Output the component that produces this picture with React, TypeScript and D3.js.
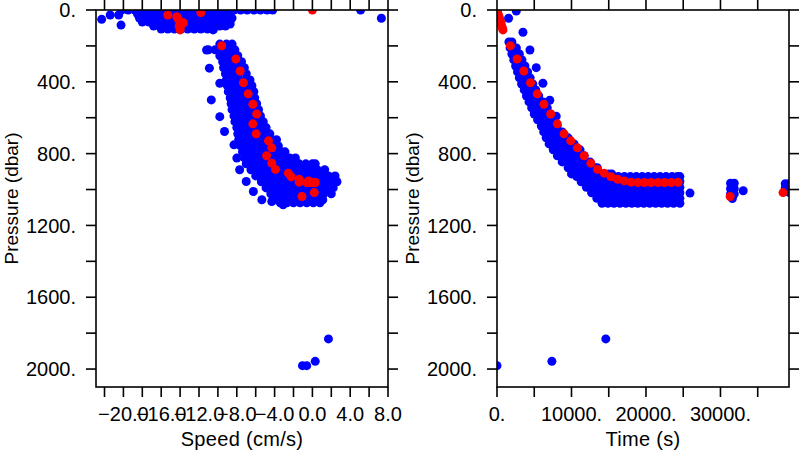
import React from 'react';
import * as d3 from 'd3';

// ---------- axis ticks & labels ----------
const pressureTicks = [0, 200, 400, 600, 800, 1000, 1200, 1400, 1600, 1800, 2000];
const pressureLabels = [0, 400, 800, 1200, 1600, 2000];
const speedTicks = [-22, -20, -18, -16, -14, -12, -10, -8, -6, -4, -2, 0, 2, 4, 6, 8];
const speedLabels = [-20, -16, -12, -8, -4, 0, 4, 8];
const timeTicks = [0, 5000, 10000, 15000, 20000, 25000, 30000, 35000];
const timeLabels = [0, 10000, 20000, 30000];

// ---------- red observations: [time (s), pressure (dbar), speed (cm/s)] ----------
const redObs: [number, number, number][] = [
  [0, 0, 0.0], [90, 15, -11.8], [180, 28, -15.3], [270, 37, -14.35], [360, 50, -14.2],
  [450, 65, -14.0], [540, 71, -13.65], [630, 89, -14.1], [720, 100, -14.0], [800, 111, -14.0],
  [1800, 199, -9.6], [2700, 273, -8.1], [3600, 340, -7.65], [4500, 405, -7.3], [5400, 467, -6.8],
  [6300, 525, -6.3], [7200, 579, -5.9], [8100, 634, -6.3], [9000, 690, -5.95], [9900, 729, -4.65],
  [10800, 768, -4.3], [11700, 812, -4.85], [12600, 853, -4.3], [13500, 888, -3.9], [14400, 909, -2.55],
  [15300, 929, -2.25], [16200, 943, -1.4], [17100, 952, -0.4], [18000, 959, -1.4], [18900, 961, -0.05],
  [19800, 961, 0.3], [20700, 961, -0.3], [21600, 961, 0.0], [22500, 961, 0.25], [23400, 961, -0.6],
  [24300, 960, 0.1], [31300, 1039, -1.1], [38400, 1017, 0.2],
];

// ---------- blue cloud, speed panel: [pressure, speeds[]] ----------
const speedBlueRows: [number, number[]][] = [
  [0, [-20.2, -19.5, -18.8, -18.1, -17.4, -16.7, -16.0, -15.3, -14.6, -13.9, -13.2, -12.5, -11.8, -11.1, -10.4, -9.7, -9.0, -8.3, -7.6, -6.9, -6.2, -5.5, -4.8, -4.2]],
  [22, [-18.5, -17.8, -17.1, -16.4, -15.7, -15.0, -14.3, -13.6, -12.9, -12.2, -11.5, -10.8, -10.1, -9.4, -8.7]],
  [45, [-18.3, -17.6, -16.9, -16.2, -15.5, -14.8, -14.1, -13.4, -12.7, -12.0, -11.3, -10.6, -9.9, -9.2, -8.5]],
  [67, [-18.0, -17.3, -16.6, -15.9, -15.2, -14.5, -13.8, -13.1, -12.4, -11.7, -11.0, -10.3, -9.6, -8.9]],
  [89, [-16.8, -16.1, -15.4, -14.7, -14.0, -13.3, -12.6, -11.9, -11.2, -10.5, -9.8, -9.2]],
  [106, [-16.0, -15.3, -14.6, -13.9, -13.2, -12.5, -11.8, -11.1, -10.5]],
  [190, [-9.8, -9.1, -8.5]],
  [222, [-11.0, -10.3, -9.6, -8.9, -8.2]],
  [255, [-9.8, -9.1, -8.4, -7.9]],
  [288, [-9.5, -8.8, -8.1, -7.5]],
  [322, [-9.4, -8.7, -8.0, -7.2]],
  [355, [-9.2, -8.5, -7.8, -7.0]],
  [390, [-9.1, -8.4, -7.7, -7.0, -6.6]],
  [422, [-9.0, -8.3, -7.6, -6.9, -6.4]],
  [455, [-8.9, -8.2, -7.5, -6.8, -6.2]],
  [490, [-8.7, -8.0, -7.3, -6.6, -6.1]],
  [522, [-8.6, -7.9, -7.2, -6.5, -5.9]],
  [555, [-8.5, -7.8, -7.1, -6.4, -5.7]],
  [590, [-8.3, -7.6, -6.9, -6.2, -5.5]],
  [622, [-8.2, -7.5, -6.8, -6.1, -5.5, -5.2]],
  [655, [-8.0, -7.3, -6.6, -5.9, -5.3, -4.9]],
  [690, [-7.9, -7.2, -6.5, -5.8, -5.1, -4.5]],
  [723, [-7.8, -7.1, -6.4, -5.7, -5.0, -4.4, -3.8]],
  [757, [-7.6, -6.9, -6.2, -5.5, -4.8, -4.2, -3.6]],
  [790, [-7.4, -6.7, -6.0, -5.3, -4.6, -3.9, -3.3, -2.9]],
  [824, [-7.2, -6.5, -5.8, -5.1, -4.4, -3.7, -3.0, -2.4, -1.8]],
  [857, [-7.0, -6.3, -5.6, -4.9, -4.2, -3.5, -2.8, -2.1, -1.4, -0.7, 0.0, 0.3]],
  [890, [-6.5, -5.8, -5.1, -4.4, -3.7, -3.0, -2.3, -1.6, -0.9, -0.2, 0.5, 1.3]],
  [924, [-6.0, -5.3, -4.6, -3.9, -3.2, -2.5, -1.8, -1.1, -0.4, 0.3, 1.0, 1.7, 2.4]],
  [957, [-5.4, -4.7, -4.0, -3.3, -2.6, -1.9, -1.2, -0.5, 0.2, 0.9, 1.6, 2.3, 2.6]],
  [991, [-4.9, -4.2, -3.5, -2.8, -2.1, -1.4, -0.7, 0.0, 0.7, 1.4, 2.2]],
  [1024, [-4.4, -3.7, -3.0, -2.3, -1.6, -0.9, -0.2, 0.5, 1.2, 2.0]],
  [1057, [-3.8, -3.1, -2.4, -1.7, -1.0, -0.3, 0.4, 1.1]],
  [1074, [-3.4, -2.7, -2.0, -1.3, -0.6, 0.1, 0.8]],
];

// isolated blue points, speed panel: [speed, pressure]
const speedBlueExtra: [number, number][] = [
  [-21.4, 28], [-20.5, 28], [-22.3, 52], [-20.25, 84], [-10.5, 111], [-8.7, 78], [5.1, 0], [7.3, 46],
  [-11.2, 223], [-10.9, 324], [-9.8, 408], [-10.7, 501], [-9.8, 594], [-9.3, 677], [-8.3, 751],
  [-8.0, 825], [-7.7, 890], [-7.0, 955], [-6.25, 1011], [-5.35, 1057], [-4.3, 1067], [-3.1, 1085],
  [-1.05, 1981], [-0.6, 1981], [0.3, 1957], [1.7, 1832],
];

// ---------- blue cloud, time panel: [pressure, times[]] ----------
const timeBlueRows: [number, number[]][] = [
  [178, [1600, 2000]],
  [211, [1750, 2300, 2600]],
  [245, [2000, 2550, 3000]],
  [278, [2250, 2850, 3350]],
  [312, [2500, 3150, 3750]],
  [345, [2750, 3450, 4100]],
  [378, [3000, 3750, 4450]],
  [412, [3300, 4050, 4800]],
  [445, [3650, 4400, 5200]],
  [479, [3950, 4750, 5600]],
  [512, [4300, 5050, 5750, 6200]],
  [545, [4650, 5400, 6150, 6750]],
  [579, [5000, 5800, 6600, 7200]],
  [612, [5450, 6200, 6950, 7700]],
  [646, [5950, 6650, 7350, 8080]],
  [679, [6270, 7100, 7900, 8750]],
  [712, [6600, 7350, 8100, 8850, 9550]],
  [746, [7000, 7850, 8700, 9550, 10350]],
  [779, [7550, 8450, 9350, 10250, 11150]],
  [812, [8100, 9000, 9900, 10800, 11700]],
  [846, [8750, 9650, 10550, 11450, 12500]],
  [879, [9550, 10450, 11350, 12250, 13150, 13450]],
  [913, [10000, 10850, 11700, 12550, 13400, 14250, 15000, 15400]],
  [928, [10700, 11500, 12300, 13100, 13900, 14700, 15500, 16300, 17100, 17900, 18700, 19500, 20300, 21100, 21900, 22700, 23500, 24200, 24550]],
  [957, [11300, 12100, 12900, 13700, 14500, 15300, 16100, 16900, 17700, 18500, 19300, 20100, 20900, 21700, 22500, 23300, 24100, 24550]],
  [988, [12000, 12750, 13550, 14350, 15150, 15950, 16750, 17550, 18350, 19150, 19950, 20750, 21550, 22350, 23150, 23950, 24550]],
  [1018, [12700, 13500, 14300, 15100, 15900, 16700, 17500, 18300, 19100, 19900, 20700, 21500, 22300, 23100, 23900, 24550]],
  [1049, [13400, 14200, 15000, 15800, 16600, 17400, 18200, 19000, 19800, 20600, 21400, 22200, 23000, 23800, 24550]],
  [1077, [14100, 14900, 15700, 16500, 17300, 18100, 18900, 19700, 20500, 21300, 22100, 22900, 23700, 24550]],
];

// isolated blue points, time panel: [time, pressure]
const timeBlueExtra: [number, number][] = [
  [2590, 6], [1554, 46], [3484, 124], [4422, 223], [5266, 321], [6164, 408], [7088, 503], [7946, 592],
  [25908, 1020],
  [31350, 965], [31850, 965], [31350, 995], [31850, 995], [31350, 1025], [31850, 1025], [31600, 1050], [33050, 1007],
  [38700, 968], [39200, 968], [38700, 990], [39200, 990], [39200, 1015],
  [0, 1981], [7370, 1957], [14606, 1832],
];

// ---------- layout ----------
const TOP = 10;
const BOTTOM = 387;
const FONT = "'Liberation Sans', Arial, sans-serif";
const R = 4.5;
const BLUE = '#0000ff';
const RED = '#ff0000';

const presY = d3.scaleLinear().domain([0, 2100]).range([TOP, BOTTOM]);
const speedX = d3.scaleLinear().domain([-22.9, 8]).range([96, 388]);
const timeX = d3.scaleLinear().domain([0, 39200]).range([497, 789]);

const fmtSpeed = (v: number) => (v < 0 ? '\u2212' + Math.abs(v).toFixed(1) : v.toFixed(1));
const fmtDot = (v: number) => `${v}.`;

type Pt = [number, number];

function Panel(props: {
  id: string;
  xScale: d3.ScaleLinear<number, number>;
  xTicks: number[];
  xLabels: number[];
  fmt: (v: number) => string;
  title: string;
  blue: Pt[];
  red: Pt[];
}) {
  const { id, xScale, xTicks, xLabels, fmt, title, blue, red } = props;
  const [x0, x1] = xScale.range();
  const cx = (x0 + x1) / 2;
  const cy = (TOP + BOTTOM) / 2;
  const sw = 1.6;
  return (
    <g>
      <defs>
        <clipPath id={id}>
          <rect x={x0} y={TOP} width={x1 - x0} height={BOTTOM - TOP} />
        </clipPath>
      </defs>
      <g clipPath={`url(#${id})`}>
        {blue.map((d, i) => (
          <circle key={'b' + i} cx={xScale(d[0])} cy={presY(d[1])} r={R} fill={BLUE} />
        ))}
        {red.map((d, i) => (
          <circle key={'r' + i} cx={xScale(d[0])} cy={presY(d[1])} r={R} fill={RED} />
        ))}
      </g>
      <rect x={x0} y={TOP} width={x1 - x0} height={BOTTOM - TOP} fill="none" stroke="#000" strokeWidth={sw} />
      {pressureTicks.map((p) => (
        <g key={'yt' + p}>
          <line x1={x0 - 10} x2={x0} y1={presY(p)} y2={presY(p)} stroke="#000" strokeWidth={sw} />
          <line x1={x1} x2={x1 + 10} y1={presY(p)} y2={presY(p)} stroke="#000" strokeWidth={sw} />
        </g>
      ))}
      {xTicks.map((t) => (
        <g key={'xt' + t}>
          <line x1={xScale(t)} x2={xScale(t)} y1={TOP - 10} y2={TOP} stroke="#000" strokeWidth={sw} />
          <line x1={xScale(t)} x2={xScale(t)} y1={BOTTOM} y2={BOTTOM + 10} stroke="#000" strokeWidth={sw} />
        </g>
      ))}
      {pressureLabels.map((p) => (
        <text key={'yl' + p} x={x0 - 20} y={presY(p)} dy="0.36em" textAnchor="end" fontFamily={FONT} fontSize={20} fill="#000">
          {fmtDot(p)}
        </text>
      ))}
      {xLabels.map((t) => (
        <text key={'xl' + t} x={xScale(t)} y={421} textAnchor="middle" fontFamily={FONT} fontSize={20} fill="#000">
          {fmt(t)}
        </text>
      ))}
      <text x={cx} y={446} textAnchor="middle" fontFamily={FONT} fontSize={20} letterSpacing={0.3} fill="#000">
        {title}
      </text>
      <text
        transform={`translate(${x0 - 78},${cy}) rotate(-90)`}
        textAnchor="middle"
        fontFamily={FONT}
        fontSize={19}
        fill="#000"
      >
        Pressure (dbar)
      </text>
    </g>
  );
}

export default function App() {
  const speedBlue: Pt[] = [];
  speedBlueRows.forEach(([p, ss]) => ss.forEach((s) => speedBlue.push([s, p])));
  speedBlueExtra.forEach(([s, p]) => speedBlue.push([s, p]));
  const timeBlue: Pt[] = [];
  timeBlueRows.forEach(([p, ts]) => ts.forEach((t) => timeBlue.push([t, p])));
  timeBlueExtra.forEach(([t, p]) => timeBlue.push([t, p]));
  const speedRed: Pt[] = redObs.map((d) => [d[2], d[1]]);
  const timeRed: Pt[] = redObs.map((d) => [d[0], d[1]]);

  return (
    <svg width={800} height={450} style={{ position: 'absolute', left: 0, top: 0, background: '#fff' }}>
      <rect x={0} y={0} width={800} height={450} fill="#fff" />
      <Panel id="clipSpeed" xScale={speedX} xTicks={speedTicks} xLabels={speedLabels} fmt={fmtSpeed} title="Speed (cm/s)" blue={speedBlue} red={speedRed} />
      <Panel id="clipTime" xScale={timeX} xTicks={timeTicks} xLabels={timeLabels} fmt={fmtDot} title="Time (s)" blue={timeBlue} red={timeRed} />
    </svg>
  );
}
